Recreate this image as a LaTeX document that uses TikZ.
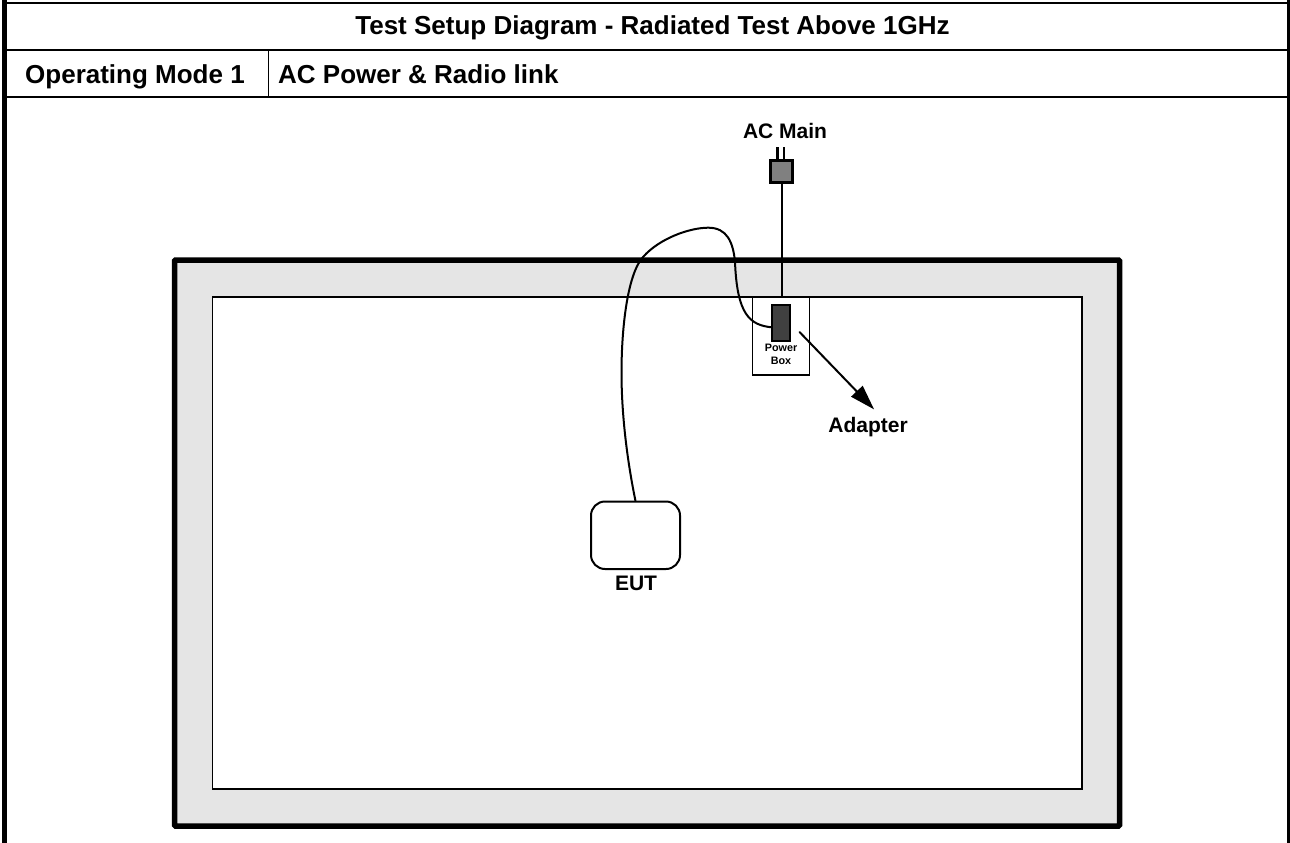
\documentclass[tikz,border=0pt]{standalone}
\usepackage{fontspec}
\setmainfont{Liberation Sans}[BoldFont={Liberation Sans Bold}]
\usetikzlibrary{calc}
\begin{document}
\begin{tikzpicture}[x=1pt,y=-1pt,
  tablerule/.style={line width=2pt,line cap=butt},
  boxnode/.style={draw,inner sep=0pt,outer sep=0pt,anchor=north west},
  label/.style={inner sep=0pt,font=\bfseries\fontsize{21}{24}\selectfont},
  headlabel/.style={inner sep=0pt,font=\bfseries\fontsize{26}{30}\selectfont},
  cable/.style={line width=2pt,line cap=round},
]
\useasboundingbox (0,0) rectangle (1290,843);
\fill[white] (0,0) rectangle (1290,843);
% table
\draw[line width=5pt] (4.5,0) -- (4.5,843);
\draw[line width=3.5pt] (1288.5,0) -- (1288.5,843);
\draw[tablerule] (4,2.8) -- (1288,2.8);
\draw[tablerule] (4,49.7) -- (1288,49.7);
\draw[tablerule] (4,97) -- (1288,97);
\draw[line width=1.5pt] (268.5,49.7) -- (268.5,97);
\node[headlabel,anchor=base] (title) at (652.5,35) {Test Setup Diagram - Radiated Test Above 1GHz};
\node[headlabel,anchor=base west] (mode) at (25,83) {Operating Mode 1};
\node[headlabel,anchor=base west] (link) at (278,83) {AC Power \& Radio link};
% table top frame
\node[boxnode,line width=5.5pt,fill=black!10,minimum width=945pt,minimum height=566pt,rounded corners=1pt] (frame) at (174.5,260) {};
\node[boxnode,line width=1.8pt,fill=white,minimum width=869.5pt,minimum height=492pt] (table) at (212.5,297) {};
% power box
\node[boxnode,line width=1.8pt,fill=white,minimum width=57pt,minimum height=78pt] (pbox) at (752.5,297) {};
\node[boxnode,line width=2pt,fill=black!75,minimum width=18pt,minimum height=36pt] (adapterbody) at (772,305) {};
\node[font=\bfseries\fontsize{10.8}{13}\selectfont,inner sep=0pt,anchor=base] (pboxlabelA) at (781,351) {Power};
\node[font=\bfseries\fontsize{10.8}{13}\selectfont,inner sep=0pt,anchor=base] (pboxlabelB) at (781,364) {Box};
% plug
\node[boxnode,line width=3pt,fill=black!50,minimum width=21.5pt,minimum height=22pt] (plug) at (770.5,160.5) {};
\coordinate (prongA) at (777.5,147);
\coordinate (prongB) at (784,147);
\draw[line width=2.4pt] (prongA) -- (prongA |- plug.north);
\draw[line width=2.4pt] (prongB) -- (prongB |- plug.north);
\coordinate (mainsfoot) at (782,297);
\draw[line width=2pt] (mainsfoot |- plug.south) -- (mainsfoot);
\node[label,anchor=base] (acmain) at (785,138) {AC Main};
% EUT
\node[boxnode,line width=2pt,fill=white,minimum width=89pt,minimum height=67.5pt,rounded corners=14pt] (eut) at (591,501.5) {};
\node[label,anchor=base] (eutlabel) at (636,590) {EUT};
% cable
\coordinate (eutport) at (635.5,501);
\coordinate (bodyport) at (771.5,327.3);
\draw[cable] (eutport) .. controls (625,450) and (621.5,405) .. (621.5,373)
  .. controls (621.5,325) and (628,273) .. (643.3,256.7)
  .. controls (660,238) and (690,227.7) .. (708.3,227.7)
  .. controls (727,227.7) and (733,242) .. (735,261.7)
  .. controls (737,315) and (750,325) .. (bodyport);
% adapter arrow
\coordinate (arrowstart) at (799.5,332);
\coordinate (arrowend) at (874,409.3);
\draw[cable] (arrowstart) -- ($(arrowstart)!0.8!(arrowend)$);
\fill (arrowend) -- (851,396.7) -- (862.7,385.7) -- cycle;
\node[label,anchor=base] (adapter) at (868,432) {Adapter};
\end{tikzpicture}
\end{document}
